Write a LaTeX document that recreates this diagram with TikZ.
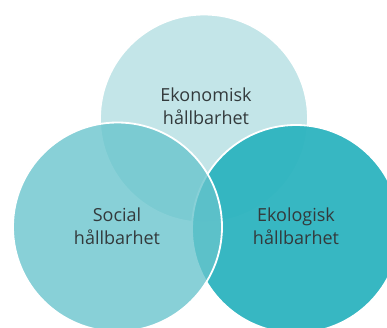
\documentclass[tikz,border=0pt]{standalone}
\usepackage{fontspec}
\setmainfont{Open Sans}
\definecolor{ctop}{HTML}{C3E5E8}
\definecolor{cright}{HTML}{2DB4BF}
\definecolor{cleft}{HTML}{67C4CC}
\definecolor{ctext}{HTML}{333A3C}
\begin{document}
\begin{tikzpicture}[x=1pt,y=-1pt,
  ring/.style={draw=white,line width=1.8pt},
  lbl/.style={text=ctext,font=\fontsize{18}{22.5}\selectfont,align=center}]
\useasboundingbox (0,0) rectangle (387,327);
\clip (0,0) rectangle (387,327);
\fill[white] (0,0) rectangle (387,327);
\path[ring,fill=ctop] (204,118.5) circle[radius=104];
\path[ring,fill=cright,fill opacity=0.95] (296,229) circle[radius=104];
\path[ring,fill=cleft,fill opacity=0.78] (117.5,227) circle[radius=104.5];
\node[lbl] (eko) at (206,106) {Ekonomisk\\hållbarhet};
\node[lbl] (soc) at (117,226) {Social\\hållbarhet};
\node[lbl] (ekol) at (296,226) {Ekologisk\\hållbarhet};
\end{tikzpicture}
\end{document}
